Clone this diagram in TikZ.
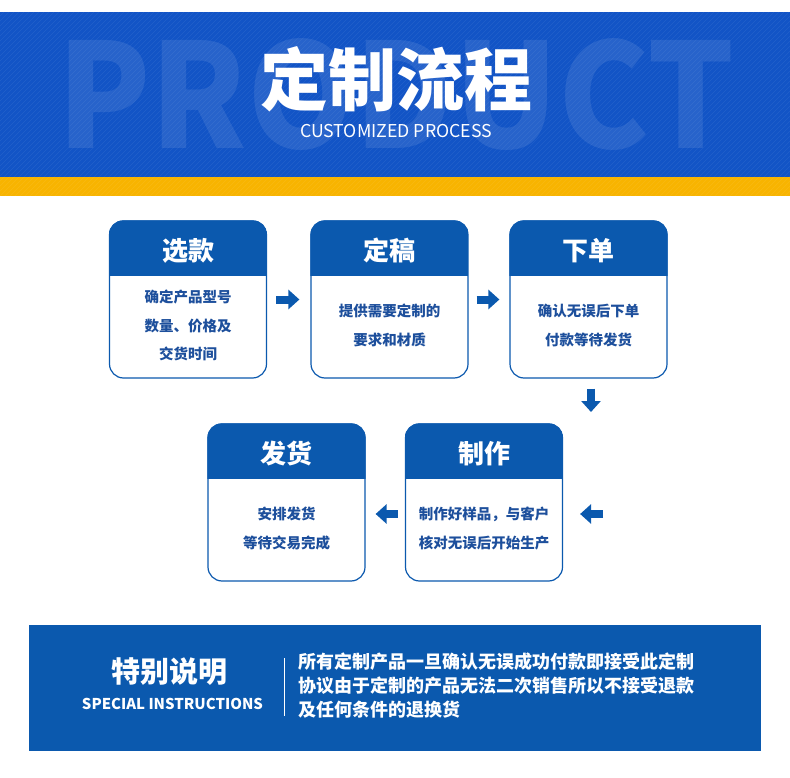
\documentclass[tikz,border=0pt]{standalone}
\usepackage{fontspec}
\usepackage{graphicx}
\setmainfont{Noto Sans CJK SC}
\usetikzlibrary{arrows.meta, positioning}

\definecolor{headblue}{HTML}{1254C6}
\definecolor{gold}{HTML}{F8B400}
\definecolor{boxblue}{HTML}{0B59AE}
\definecolor{textblue}{HTML}{1D4F9C}

\tikzset{
  stepcard/.style={draw=boxblue, line width=1.2pt, fill=white, rounded corners=14pt,
    minimum width=157pt, minimum height=157pt, inner sep=0pt},
  cardtitle/.style={text=white, font=\fontsize{26}{30}\selectfont\bfseries},
  cardtext/.style={text=textblue, font=\fontsize{14.5}{28.5}\selectfont\bfseries, align=center},
  flowarrow/.style={draw=boxblue, line width=8pt, -{Triangle[length=11pt,width=19pt]}},
}

\begin{document}
\begin{tikzpicture}[x=1pt, y=-1pt]
  \useasboundingbox (0,0) rectangle (790,778);

  % header band
  \fill[headblue] (0,12) rectangle (790,177);
  \fill[gold] (0,177) rectangle (790,196);
  \begin{scope}
    \clip (0,12) rectangle (790,196);
    \foreach \i in {-200,-195,...,790}
      \draw[white, opacity=0.07, line width=0.6pt] (\i,196) -- ++(184,-184);
  \end{scope}
  \node[text=white, opacity=0.09, inner sep=0pt] (mark) at (396,95)
    {\resizebox{677pt}{110pt}{\bfseries PRODUCT}};
  \node[text=white, font=\fontsize{68}{72}\selectfont\bfseries] (title) at (396,79) {定制流程};
  \node[text=white, inner sep=0pt] (subtitle) at (396,131)
    {\resizebox{192pt}{!}{CUSTOMIZED PROCESS}};

  % step cards
  \node[stepcard] (xuan) at (188,299.5) {};
  \node[stepcard] (gao) at (389.5,299.5) {};
  \node[stepcard] (dan) at (588.5,299.5) {};
  \node[stepcard] (fa) at (286.5,502.5) {};
  \node[stepcard] (zhi) at (484,502.5) {};

  \foreach \n/\t in {xuan/选款, gao/定稿, dan/下单, fa/发货, zhi/制作} {
    \begin{scope}
      \clip[rounded corners=14pt] (\n.south west) rectangle (\n.north east);
      \fill[boxblue] (\n.north west) rectangle ([yshift=-56pt]\n.north east);
    \end{scope}
    \node[cardtitle] (\n-title) at ([yshift=-30pt]\n.north) {\t};
  }

  \node[cardtext] (xuan-text) at ([yshift=-26pt]xuan.center) {确定产品型号\\数量、价格及\\交货时间};
  \node[cardtext] (gao-text) at ([yshift=-26pt]gao.center) {提供需要定制的\\要求和材质};
  \node[cardtext] (dan-text) at ([yshift=-26pt]dan.center) {确认无误后下单\\付款等待发货};
  \node[cardtext] (fa-text) at ([yshift=-26pt]fa.center) {安排发货\\等待交易完成};
  \node[cardtext] (zhi-text) at ([yshift=-26pt]zhi.center) {制作好样品，与客户\\核对无误后开始生产};

  % arrows
  \coordinate (bend) at (591,412);
  \coordinate (back) at (603,514);
  \draw[flowarrow, shorten <=9pt, shorten >=11pt] (xuan.east) -- (gao.west);
  \draw[flowarrow, shorten <=8pt, shorten >=10pt] (gao.east) -- (dan.west);
  \draw[flowarrow, shorten <=10pt] (dan.south -| bend) -- (bend);
  \draw[flowarrow, shorten >=17pt] (back) -- (back -| zhi.east);
  \draw[flowarrow, shorten <=7pt, shorten >=10pt] (zhi.west |- back) -- (fa.east |- back);

  % notice panel
  \node[fill=boxblue, minimum width=732pt, minimum height=126pt, inner sep=0pt] (notice) at (395,688) {};
  \node[text=white, font=\fontsize{29}{32}\selectfont\bfseries] (notice-title) at (169,672) {特别说明};
  \node[text=white, inner sep=0pt] (notice-sub) at (172.5,704)
    {\resizebox{181pt}{!}{\bfseries SPECIAL INSTRUCTIONS}};
  \coordinate (rule-top) at (284,658);
  \coordinate (rule-bot) at (284,716);
  \draw[white, line width=1pt] (rule-top) -- (rule-bot);
  \node[text=white, anchor=west, align=left, inner sep=0pt,
    font=\fontsize{18}{24}\selectfont\bfseries] (notice-text) at (298,686)
    {所有定制产品一旦确认无误成功付款即接受此定制\\协议由于定制的产品无法二次销售所以不接受退款\\及任何条件的退换货};
\end{tikzpicture}
\end{document}
